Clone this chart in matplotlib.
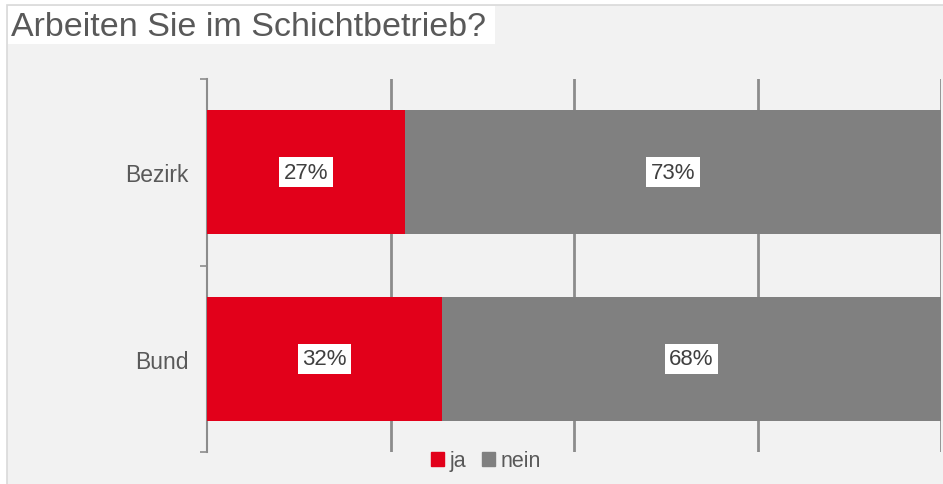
import matplotlib.pyplot as plt
import matplotlib.patches as mpatches

plt.rcParams['font.family'] = ['Liberation Sans', 'DejaVu Sans']

categories = ["Bund", "Bezirk"]
ja = [32, 27]
nein = [68, 73]
series_labels = ["ja", "nein"]
title = "Arbeiten Sie im Schichtbetrieb?"

RED = "#e2001a"
GREY = "#808080"
TEXT = "#595959"
BG = "#f2f2f2"

W, H = 943, 485
fig = plt.figure(figsize=(W / 100, H / 100), dpi=100, facecolor="white")

# background panel with thin border, white title box
fig.add_artist(mpatches.Rectangle((7 / W, -0.1), 1, 1.1 - 6 / H, transform=fig.transFigure,
                                  facecolor=BG, edgecolor="#d9d9d9", linewidth=1.2, zorder=0))
fig.add_artist(mpatches.Rectangle((8 / W, 1 - 45 / H), 487 / W, 38 / H, transform=fig.transFigure,
                                  facecolor="white", edgecolor="none", zorder=1))
fig.text(11 / W, 1 - 28 / H, title, fontsize=24.5, color=TEXT, va="center", ha="left", zorder=2)

ax = fig.add_axes([207 / W, 32 / H, 734 / W, 373 / H])
ax.set_facecolor("none")

y = range(len(categories))
h = 0.665
ax.barh(y, ja, height=h, color=RED, label=series_labels[0], zorder=3)
ax.barh(y, nein, left=ja, height=h, color=GREY, label=series_labels[1], zorder=3)

for i in y:
    for x, v in [(ja[i] / 2, ja[i]), (ja[i] + nein[i] / 2, nein[i])]:
        ax.text(x, i, f"{v}%", ha="center", va="center", fontsize=16, color="#404040", zorder=4,
                bbox=dict(boxstyle="square,pad=0.2", facecolor="white", edgecolor="none"))

ax.set_xlim(0, 100)
ax.set_ylim(-0.5, len(categories) - 0.5)
ax.set_xticks([25, 50, 75, 100])
ax.xaxis.grid(True, color="#8c8c8c", linewidth=2, zorder=1)
ax.tick_params(axis="x", length=0, labelbottom=False)

ax.set_yticks(list(y))
ax.set_yticklabels(categories, fontsize=16.5, color=TEXT)
ax.tick_params(axis="y", which="major", length=0, pad=13.5)
ax.set_yticks([-0.5, 0.5, 1.5], minor=True)
ax.tick_params(axis="y", which="minor", length=5, width=1.2, color="#8c8c8c")

for s in ["top", "right", "bottom"]:
    ax.spines[s].set_visible(False)
ax.spines["left"].set_color("#8c8c8c")
ax.spines["left"].set_linewidth(1.5)

handles = [mpatches.Patch(color=RED), mpatches.Patch(color=GREY)]
fig.legend(handles, series_labels, loc="center", bbox_to_anchor=(486 / W, 23 / H), ncol=2,
           frameon=False, fontsize=15.5, labelcolor=TEXT, handlelength=0.6, handleheight=0.6,
           handletextpad=0.3, columnspacing=0.7)

plt.savefig("out.png", dpi=100, facecolor=fig.get_facecolor())
